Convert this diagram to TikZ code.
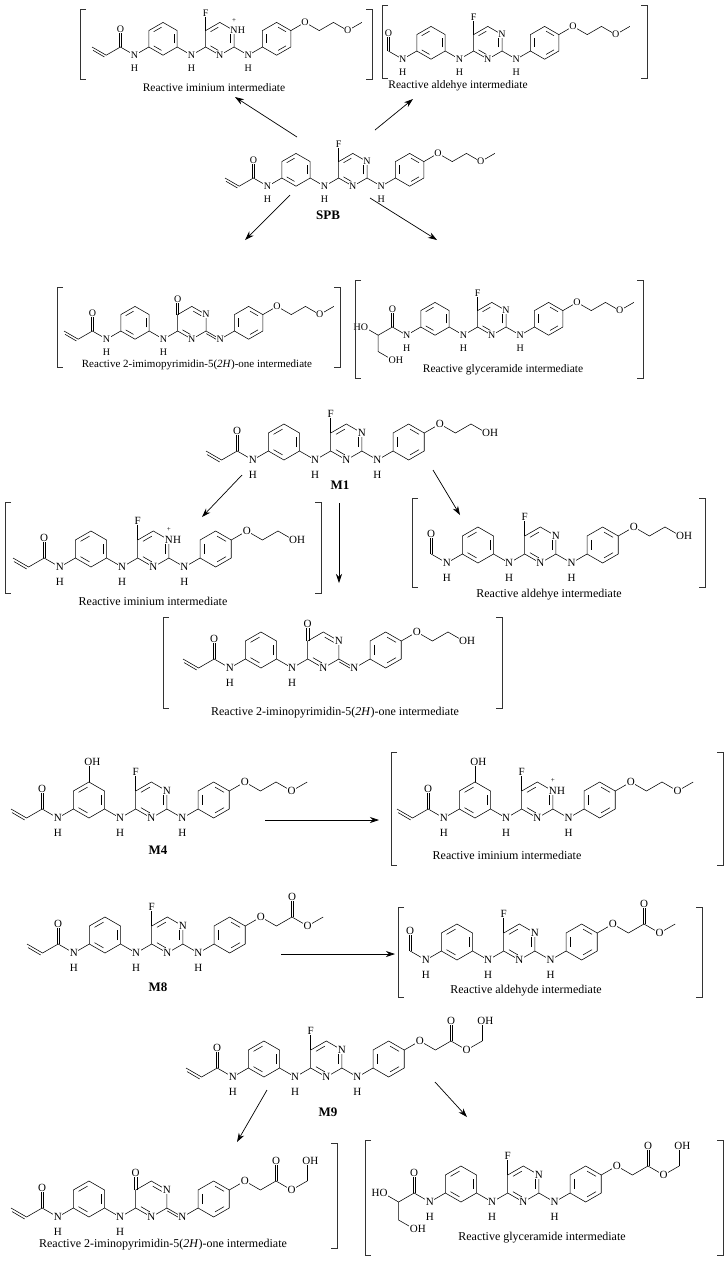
\documentclass[tikz,border=0pt]{standalone}
\usepackage{fontspec}
\setmainfont{Liberation Serif}
\usetikzlibrary{arrows.meta}
\tikzset{atom/.style={fill=white,inner sep=0.5pt},
  rxn/.style={-{Stealth[length=9pt,width=6pt]},line width=0.7pt},
  captext/.style={font=\fontsize{#1}{#1}\selectfont,inner sep=0pt},
  mlabel/.style={font=\fontsize{13}{13}\selectfont\bfseries},
  brk/.style={line width=0.6pt,draw=black!80}}
\newcommand\dbv[3]{\draw (#1-0.065,#2)--(#1-0.065,#3) (#1+0.065,#2)--(#1+0.065,#3);}
\newcommand\hexa[2]{\begin{scope}[shift={(#1)}]
 \draw (30:1)--(90:1)--(150:1)--(210:1)--(270:1)--(330:1)--cycle;
 \foreach \a in {#2} \draw[shorten <=1.7pt,shorten >=1.7pt] (\a:0.76)--(\a+60:0.76);
 \end{scope}}
\newcommand\NH[2]{\node[atom] at (#1,#2) {N}; \node[atom] at (#1,#2-0.8) {H};}
% heads
\newcommand\hAcrylB{\draw (0,0)--(0.866,-0.5)--(1.732,0)--(2.598,-0.5); \draw (0.06,-0.2)--(0.76,-0.61); \dbv{1.732}{0}{0.95}}
\newcommand\hAcrylL{\node[atom] at (1.732,1.1) {O}; \NH{2.598}{-0.5}}
\newcommand\hFormB{\draw (1.732,0)--(2.598,-0.5); \dbv{1.732}{0}{0.95}}
\newcommand\hFormL{\hAcrylL}
\newcommand\hGlyB{\draw (0,0)--(0.866,-0.5)--(1.732,0)--(2.598,-0.5); \draw (0.866,-0.5)--(0.866,-1.5)--(1.732,-2); \dbv{1.732}{0}{0.95}}
\newcommand\hGlyL{\hAcrylL \node[atom,anchor=east] at (0.3,0) {HO}; \node[atom,anchor=west] at (1.45,-2) {OH};}
% core
\newcommand\coreB{\draw (2.598,-0.5)--(3.464,0); \hexa{4.33,0.5}{90,210,330}
 \draw (5.196,0)--(6.062,-0.5)--(6.928,0); \hexa{11.258,0.5}{30,150,270}}
\newcommand\coreL{\NH{6.062}{-0.5}}
% pyrimidine variants
\newcommand\pFB{\hexa{7.794,0.5}{90,210,330} \draw (6.928,1)--(6.928,1.9); \draw (8.66,0)--(9.526,-0.5)--(10.392,0);}
\newcommand\pFL{\node[atom] at (6.928,2.05) {F}; \node[atom] at (8.66,1) {N}; \node[atom] at (7.794,-0.5) {N}; \NH{9.526}{-0.5}}
\newcommand\pIminB{\pFB}
\newcommand\pIminL{\node[atom] at (6.928,2.05) {F}; \node[atom] at (8.66,1) {N};
 \node[inner sep=0pt,anchor=west] at (8.88,1) {H}; \node[inner sep=0pt,font=\fontsize{7}{7}\selectfont] at (8.66,1.6) {+};
 \node[atom] at (7.794,-0.5) {N}; \NH{9.526}{-0.5}}
\newcommand\pOneB{\hexa{7.794,0.5}{30,210} \dbv{6.928}{1}{1.8} \draw (8.66,0)--(9.526,-0.5)--(10.392,0); \draw (8.68,-0.16)--(9.46,-0.61);}
\newcommand\pOneL{\node[atom] at (6.928,1.95) {O}; \node[atom] at (8.66,1) {N}; \node[atom] at (7.794,-0.5) {N}; \node[atom] at (9.526,-0.5) {N};}
% tails
\newcommand\tOMeB{\draw (12.124,1)--(12.99,1.5)--(13.856,1)--(14.722,1.5)--(15.588,1)--(16.454,1.5);}
\newcommand\tOMeL{\node[atom] at (12.99,1.5) {O}; \node[atom] at (15.588,1) {O};}
\newcommand\tOHB{\draw (12.124,1)--(12.99,1.5)--(13.856,1)--(14.722,1.5)--(15.588,1);}
\newcommand\tOHL{\node[atom] at (12.99,1.5) {O}; \node[atom,anchor=west] at (15.3,1) {OH};}
\newcommand\tEstB{\draw (12.124,1)--(12.99,1.5)--(13.856,1)--(14.722,1.5)--(15.588,1)--(16.454,1.5); \dbv{14.722}{1.5}{2.45}}
\newcommand\tEstL{\node[atom] at (12.99,1.5) {O}; \node[atom] at (14.722,2.6) {O}; \node[atom] at (15.588,1) {O};}
\newcommand\tNineB{\tEstB \draw (16.454,1.5)--(16.454,2.4);}
\newcommand\tNineL{\tEstL \node[atom,anchor=west] at (16.15,2.6) {OH};}
\newcommand\xOH{\draw (4.33,1.5)--(4.33,2.4); \node[atom,anchor=west] at (4.03,2.6) {OH};}
\newcommand\mol[8]{\begin{scope}[shift={(#1,#2)},x={(#3pt,0pt)},y={(0pt,#3pt)},font=\fontsize{#4}{#4}\selectfont,line width=0.55pt]
 \csname #5B\endcsname \coreB \csname #6B\endcsname \csname #7B\endcsname #8
 \csname #5L\endcsname \coreL \csname #6L\endcsname \csname #7L\endcsname
 \end{scope}}
\newcommand\brk[4]{\draw[brk] (#1+6,#3)--(#1,#3)--(#1,#4)--(#1+6,#4); \draw[brk] (#2-6,#3)--(#2,#3)--(#2,#4)--(#2-6,#4);}
\begin{document}
\begin{tikzpicture}[x=1pt,y=-1pt]
\useasboundingbox (0,0) rectangle (724,1262);
% ---- SPB section
\mol{92}{47}{16.4}{10}{hAcryl}{pImin}{tOMe}{}
\mol{360}{51}{16.4}{10}{hForm}{pF}{tOMe}{}
\mol{225}{178}{16.4}{10}{hAcryl}{pF}{tOMe}{}
\mol{64}{331}{16.4}{10}{hAcryl}{pOne}{tOMe}{}
\mol{364}{327}{16.4}{10}{hGly}{pF}{tOMe}{}
\brk{80}{372}{9}{79} \brk{382}{647}{5}{78} \brk{57}{340}{287}{367} \brk{355}{643}{280}{378}
\node[captext=11.5] (c1) at (214,88) {Reactive iminium intermediate};
\node[captext=11.5] (c2) at (458,86) {Reactive aldehye intermediate};
\node[captext=11] (c3) at (197,365) {Reactive 2-imimopyrimidin-5(\textit{2H})-one intermediate};
\node[captext=11.5] (c4) at (503,370) {Reactive glyceramide intermediate};
\node[mlabel] (spb) at (328,215) {SPB};
\draw[rxn] (297,137)--(235,97); \draw[rxn] (375,130)--(413,99);
\draw[rxn] (290,195)--(245,240); \draw[rxn] (370,198)--(437,240);
% ---- M1 section
\mol{206}{451}{18}{11}{hAcryl}{pF}{tOH}{}
\mol{13}{558}{18}{11}{hAcryl}{pImin}{tOH}{}
\mol{400}{554}{18}{11}{hForm}{pF}{tOH}{}
\mol{183}{659}{18}{11}{hAcryl}{pOne}{tOH}{}
\brk{5}{321}{502}{593} \brk{412}{705}{498}{587} \brk{163}{502}{617}{708}
\node[mlabel] (m1) at (340,485) {M1};
\node[captext=12] (c5) at (153,601) {Reactive iminium intermediate};
\node[captext=12] (c6) at (549,595) {Reactive aldehye intermediate};
\node[captext=12] (c7) at (335,713) {Reactive 2-iminopyrimidin-5(\textit{2H})-one intermediate};
\draw[rxn] (242,475)--(202,517); \draw[rxn] (339,503)--(339,583); \draw[rxn] (433,470)--(460,515);
% ---- M4 / M8
\mol{11}{809}{18}{11}{hAcryl}{pF}{tOMe}{\xOH}
\mol{397}{809}{18}{11}{hAcryl}{pImin}{tOMe}{\xOH}
\brk{391}{723}{752}{865}
\node[mlabel] (m4) at (158,850) {M4};
\node[captext=12] (c8) at (507,855) {Reactive iminium intermediate};
\draw[rxn] (265,820)--(379,820);
\mol{27}{944}{18}{11}{hAcryl}{pF}{tEst}{}
\mol{379}{951}{18}{11}{hForm}{pF}{tEst}{}
\brk{398}{702}{907}{997}
\node[mlabel] (m8) at (158,987) {M8};
\node[captext=12] (c9) at (526,991) {Reactive aldehyde intermediate};
\draw[rxn] (281,954)--(395,954);
% ---- M9
\mol{186}{1068}{18}{11}{hAcryl}{pF}{tNine}{}
\mol{11}{1208}{18}{11}{hAcryl}{pOne}{tNine}{}
\mol{383}{1193}{18}{11}{hGly}{pF}{tNine}{}
\draw[brk] (331,1143)--(337,1143)--(337,1248)--(331,1248);
\brk{365}{723}{1140}{1255}
\node[mlabel] (m9) at (328,1112) {M9};
\node[captext=12] (c10) at (163,1245) {Reactive 2-iminopyrimidin-5(\textit{2H})-one intermediate};
\node[captext=12] (c11) at (542,1238) {Reactive glyceramide intermediate};
\draw[rxn] (267,1090)--(237,1142); \draw[rxn] (435,1082)--(467,1117);
\end{tikzpicture}
\end{document}
